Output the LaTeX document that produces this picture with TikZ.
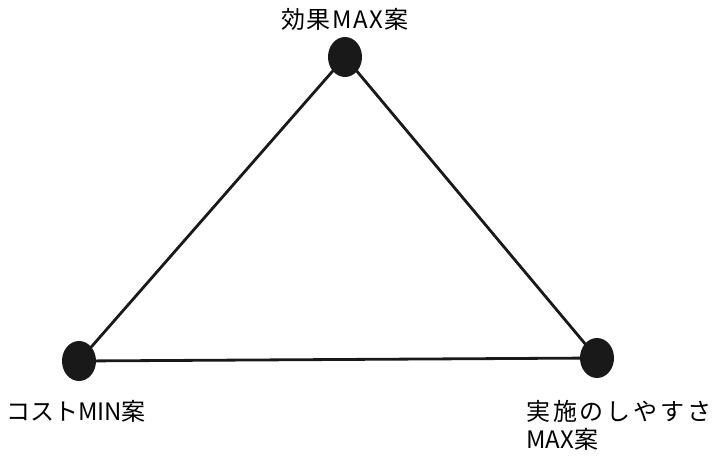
\documentclass[tikz,border=0pt]{standalone}
\usepackage{fontspec}
\setmainfont{Noto Sans CJK JP}
\newfontfamily\spacedfont[LetterSpace=12]{Noto Sans CJK JP}
\newfontfamily\slightfont[LetterSpace=6]{Noto Sans CJK JP}
\usetikzlibrary{positioning, shapes.geometric}

\tikzset{
  dot/.style={ellipse, fill=black!90, minimum width=34pt, minimum height=40pt, inner sep=0pt},
  edge/.style={line width=2.8pt, black!90},
  lbl/.style={font=\fontsize{24}{28}\selectfont, inner sep=0pt, align=left}
}

\begin{document}
\begin{tikzpicture}[x=1pt, y=-1pt]
  \useasboundingbox (0,0) rectangle (715,461);
  % points
  \node[dot] (kouka) at (345,57) {};
  \node[dot] (cost) at (79,361) {};
  \node[dot] (jisshi) at (597,358) {};
  % sides
  \draw[edge] (kouka.center) -- (cost.center) -- (jisshi.center) -- cycle;
  % labels
  \node[lbl] (kouka label) at (345,19) {\slightfont 効果MAX案};
  \node[lbl] (cost label) at (76,411) {コストMIN案};
  \node[lbl, anchor=north west] (jisshi label) at (526,400) {\spacedfont 実施のしやすさ\\MAX案};
\end{tikzpicture}
\end{document}
